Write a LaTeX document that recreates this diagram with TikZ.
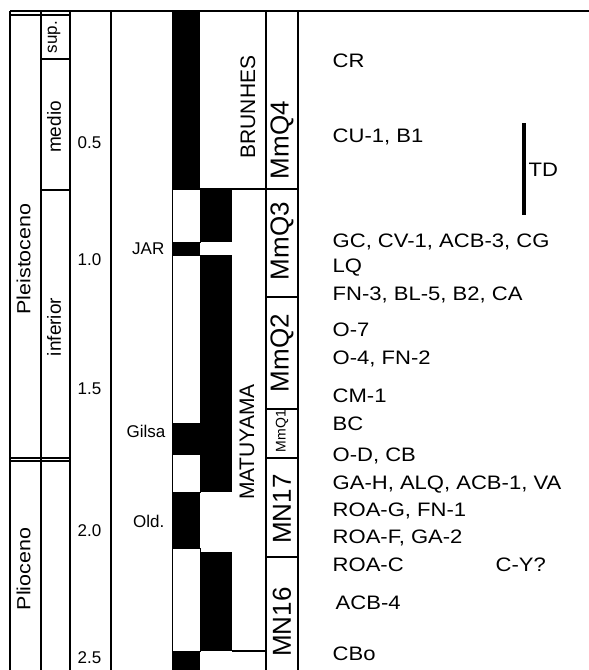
\documentclass[tikz,border=0pt]{standalone}
\usepackage{fontspec}
\setmainfont{Liberation Sans}
\newfontfamily\widesans{Liberation Sans}[FakeStretch=1.13]

\begin{document}
\begin{tikzpicture}[x=0.5pt, y=-0.5pt, line width=0.7pt,
  site/.style={font=\widesans\fontsize{9.75}{11}\selectfont, anchor=base west, inner sep=0pt},
  age/.style={font=\fontsize{8.5}{10}\selectfont, anchor=base west, inner sep=0pt},
  event/.style={font=\fontsize{8.5}{10}\selectfont, anchor=base east, inner sep=0pt},
  epoch/.style={rotate=90, font=\widesans\fontsize{9.5}{11}\selectfont, inner sep=0pt},
  subepoch/.style={rotate=90, font=\fontsize{9.5}{11}\selectfont, inner sep=0pt},
  chron/.style={rotate=90, font=\fontsize{10.5}{12}\selectfont, inner sep=0pt},
  zone/.style={rotate=90, font=\fontsize{13}{15}\selectfont, inner sep=0pt},
  polnormal/.style={fill=black},
  polreverse/.style={fill=white, draw=black, line width=0.4pt}]
  \useasboundingbox (0,0) rectangle (589,670);
  % polarity, left column
  \fill[polnormal] (172,11) rectangle (200,189);
  \filldraw[polreverse] (172,189) rectangle (200,242);
  \fill[polnormal] (172,242) rectangle (200,255);
  \filldraw[polreverse] (172,255) rectangle (200,423);
  \fill[polnormal] (172,423) rectangle (200,454);
  \filldraw[polreverse] (172,454) rectangle (200,492);
  \fill[polnormal] (172,492) rectangle (200,548);
  \filldraw[polreverse] (172,548) rectangle (200,651);
  \fill[polnormal] (172,651) rectangle (200,670);
  % polarity, right column
  \fill[polnormal] (200,189) rectangle (232,242);
  \fill[polnormal] (200,255) rectangle (232,492);
  \fill[polnormal] (200,552) rectangle (232,651);
  % frame
  \draw (10,11) -- (589,11);
  \draw (10,15) -- (70,15);
  \draw (10,458) -- (70,458) (10,461) -- (70,461);
  \draw (41,59) -- (70,59) (41,190) -- (70,190);
  \draw (10,11) -- (10,670) (41,11) -- (41,670) (70,11) -- (70,670) (111,11) -- (111,670);
  \draw (266,11) -- (266,670) (298,11) -- (298,670);
  \draw (200,189) -- (298,189);
  \draw (232,651) -- (266,651);
  % biozone limits
  \draw (266,297) -- (298,297) (266,409) -- (298,409) (266,458) -- (298,458) (266,557) -- (298,557);
  % epochs
  \node[epoch] (pleist) at (23.5,259) {Pleistoceno};
  \node[epoch] (plio) at (23.5,569) {Plioceno};
  \node[subepoch, font=\fontsize{8.5}{10}\selectfont] (sup) at (54,37) {sup.};
  \node[subepoch] (medio) at (54,127) {medio};
  \node[subepoch] (inf) at (54,327) {inferior};
  % ages (Ma)
  \node[age] (a05) at (77,148) {0.5};
  \node[age] (a10) at (77,265) {1.0};
  \node[age] (a15) at (77,394) {1.5};
  \node[age] (a20) at (77,536) {2.0};
  \node[age] (a25) at (77,663) {2.5};
  % events
  \node[event] (jar) at (165,254) {JAR};
  \node[event] (gilsa) at (166,437) {Gilsa};
  \node[event] (old) at (165,527) {Old.};
  % chrons
  \node[chron] (brunhes) at (248,107) {BRUNHES};
  \node[chron] (matuyama) at (247,442) {MATUYAMA};
  % biozones
  \node[zone] (mmq4) at (282,140) {MmQ4};
  \node[zone] (mmq3) at (282,241) {MmQ3};
  \node[zone] (mmq2) at (282,353) {MmQ2};
  \node[zone, font=\fontsize{7}{8}\selectfont] (mmq1) at (282,431) {MmQ1};
  \node[zone] (mn17) at (282,509) {MN17};
  \node[zone] (mn16) at (282,622) {MN16};
  % sites
  \node[site] (cr) at (332,67) {CR};
  \node[site] (cu) at (332,142) {CU-1, B1};
  \node[site] (gc) at (332,247) {GC, CV-1, ACB-3, CG};
  \node[site] (lq) at (332,272) {LQ};
  \node[site] (fn3) at (332,300) {FN-3, BL-5, B2, CA};
  \node[site] (o7) at (332,336) {O-7};
  \node[site] (o4) at (332,364) {O-4, FN-2};
  \node[site] (cm) at (332,402) {CM-1};
  \node[site] (bc) at (332,430) {BC};
  \node[site] (od) at (332,461) {O-D, CB};
  \node[site] (gah) at (332,489) {GA-H, ALQ, ACB-1, VA};
  \node[site] (roag) at (332,516) {ROA-G, FN-1};
  \node[site] (roaf) at (332,543) {ROA-F, GA-2};
  \node[site] (roac) at (332,571) {ROA-C};
  \node[site] (cy) at (495,571) {C-Y?};
  \node[site] (acb4) at (335,609) {ACB-4};
  \node[site] (cbo) at (332,660) {CBo};
  % TD range
  \draw[line width=1.8pt] (524,123) -- (524,215);
  \node[site] (td) at (528,176) {TD};
\end{tikzpicture}
\end{document}
